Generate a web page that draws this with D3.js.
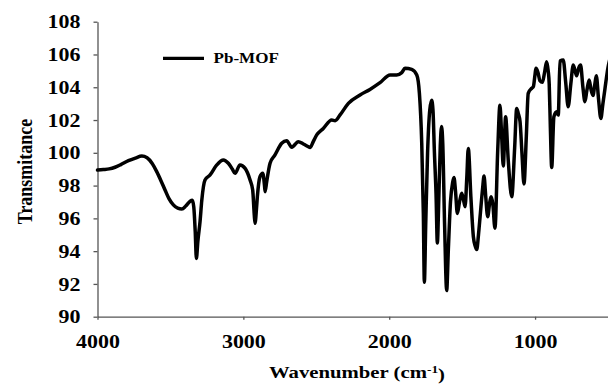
<!DOCTYPE html>
<html><head><meta charset="utf-8">
<script src="https://cdn.jsdelivr.net/npm/d3@7"></script>
<style>html,body{margin:0;padding:0;background:#fff;} svg{display:block;}</style>
</head><body>
<svg id="chart" width="608" height="385"></svg>
<script>
const seriesName = "Pb-MOF";
const wavenumbers = [4000,3960,3920,3880,3840,3788,3740,3696,3660,3625,3594,3565,3537,3510,3480,3450,3422,3395,3365,3350,3340,3330,3322,3312,3297,3285,3263,3228,3182,3137,3103,3075,3057,3023,2988,2954,2936,2925,2920,2910,2904,2886,2867,2855,2851,2840,2817,2783,2737,2703,2668,2623,2589,2554,2543,2520,2497,2452,2394,2371,2337,2280,2200,2132,2063,1994,1949,1914,1892,1846,1811,1793,1777,1766,1759,1750,1737,1722,1709,1700,1690,1679,1670,1660,1650,1641,1633,1620,1606,1595,1580,1565,1556,1545,1533,1518,1503,1490,1480,1468,1458,1440,1423,1410,1400,1388,1377,1360,1350,1338,1325,1312,1302,1290,1275,1256,1241,1229,1218,1202,1184,1160,1140,1126,1115,1103,1090,1076,1060,1047,1023,1012,1000,994,980,967,950,935,921,910,903,895,886,871,852,841,829,807,790,773,755,738,715,700,688,672,658,645,629,615,603,590,580,565,549,535,521,500,485];
const transmittance = [98.95,98.98,99.02,99.12,99.28,99.52,99.68,99.80,99.70,99.35,98.85,98.3,97.73,97.2,96.82,96.62,96.57,96.75,97.05,97.10,96.7,95.2,93.55,94.6,95.8,97.1,98.34,98.65,99.26,99.56,99.36,99.0,98.75,99.26,99.05,98.34,97.73,96.2,95.7,96.6,97.32,98.54,98.75,98.0,97.63,98.24,99.36,99.87,100.58,100.74,100.34,100.68,100.54,100.37,100.32,100.7,101.09,101.49,102.0,101.96,102.31,103.02,103.53,103.87,104.28,104.75,104.75,104.89,105.16,105.09,104.75,103.63,100.58,96.3,92.1,95.5,100.0,102.6,103.2,102.6,100.0,97.5,94.5,97.2,100.4,101.6,100.6,95.5,91.6,94.0,97.0,98.2,98.5,97.6,96.3,97.0,97.53,97.1,96.71,98.5,100.27,97.3,94.88,94.3,94.1,95.0,96.1,97.8,98.58,97.3,96.1,96.9,97.32,96.9,95.4,100.17,102.9,101.0,99.2,102.2,99.56,97.32,100.3,102.71,102.4,101.9,100.0,98.1,101.0,103.63,103.94,104.03,104.8,105.16,104.9,104.4,104.3,104.9,105.56,105.0,104.2,101.5,99.1,102.2,102.5,102.3,105.6,105.66,104.3,102.81,104.2,105.36,104.7,105.2,105.36,104.0,103.12,103.8,104.44,103.8,103.5,104.2,104.7,103.3,102.1,103.0,103.9,105.2,105.8];
const xTickValues = [4000, 3000, 2000, 1000];
const yTickValues = [90, 92, 94, 96, 98, 100, 102, 104, 106, 108];
const xTitle = "Wavenumber (cm";
const xTitleSup = "-1";
const yTitle = "Transmitance";

const FONT = "'Liberation Serif','Times New Roman',serif";
const SX = 1.22;
const svg = d3.select("#chart");

const x = d3.scaleLinear().domain([4000, 500]).range([97.5, 608]);
const y = d3.scaleLinear().domain([90, 108]).range([316.7, 21.7]);

const data = wavenumbers.map((w, i) => ({w, t: transmittance[i]}));

// Y axis
const yAxis = svg.append("g").attr("transform", `translate(${x(4000)},0)`)
  .call(d3.axisLeft(y).tickValues(yTickValues).tickSize(4).tickSizeOuter(0).tickFormat(d3.format("d")));
yAxis.selectAll("text")
  .attr("x", -17 / SX).attr("dy", "0.34em")
  .attr("transform", `scale(${SX},1)`)
  .style("font-family", FONT).style("font-weight", "bold").style("font-size", "18px").attr("fill", "#000");

// X axis
const xAxis = svg.append("g").attr("transform", `translate(0,${y(90)})`)
  .call(d3.axisBottom(x).tickValues(xTickValues).tickSize(3).tickSizeOuter(0).tickFormat(d3.format("d")));
xAxis.selectAll("text")
  .attr("y", 18.5).attr("dy", "0.71em")
  .attr("transform", `scale(${SX},1)`)
  .style("font-family", FONT).style("font-weight", "bold").style("font-size", "18px").attr("fill", "#000");

[yAxis, xAxis].forEach(a => {
  a.select(".domain").attr("stroke", "#555").attr("stroke-width", 1.3);
  a.selectAll(".tick line").attr("stroke", "#555").attr("stroke-width", 1.3);
});

// Line
const line = d3.line().x(d => x(d.w)).y(d => y(d.t)).curve(d3.curveMonotoneX);
svg.append("path").datum(data)
  .attr("d", line)
  .attr("fill", "none").attr("stroke", "#000").attr("stroke-width", 3.5)
  .attr("stroke-linejoin", "round").attr("stroke-linecap", "round");

// Legend
svg.append("line").attr("x1", 163).attr("x2", 204).attr("y1", 58.3).attr("y2", 58.3)
  .attr("stroke", "#000").attr("stroke-width", 3.2);
svg.append("text").attr("transform", `translate(213.5,63.3) scale(${SX},1)`)
  .style("font-family", FONT).style("font-weight", "bold").style("font-size", "14px")
  .text(seriesName);

// X title
const xt = svg.append("text").attr("transform", `translate(357,377.5) scale(${SX},1)`)
  .attr("text-anchor", "middle")
  .style("font-family", FONT).style("font-weight", "bold").style("font-size", "17px");
xt.append("tspan").text(xTitle);
xt.append("tspan").attr("dy", "-0.45em").style("font-size", "11px").text(xTitleSup);
xt.append("tspan").attr("dy", "0.45em").text(")");

// Y title
svg.append("text").attr("transform", `translate(32,171.5) rotate(-90) scale(1,${SX})`)
  .attr("text-anchor", "middle")
  .style("font-family", FONT).style("font-weight", "bold").style("font-size", "18px")
  .text(yTitle);
</script>
</body></html>
